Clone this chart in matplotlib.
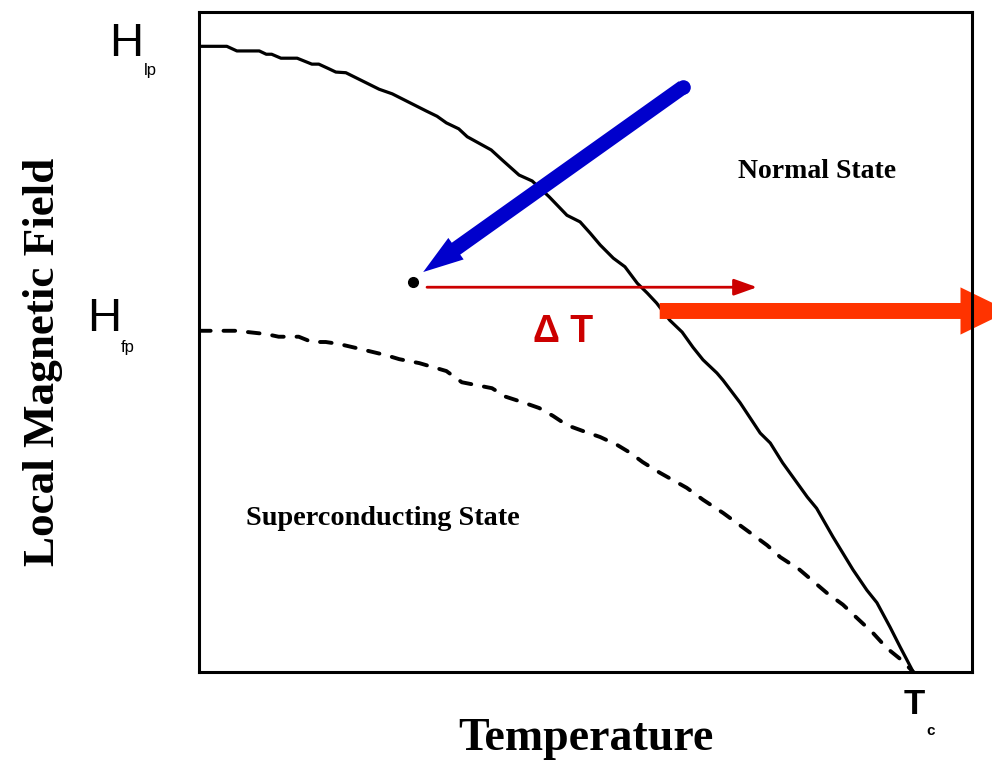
"""
Phase diagram sketch: local magnetic field vs temperature.
"""

import matplotlib.pyplot as plt

# Upper critical line (H_lp -> Tc), normalised units
t_upper = [0.000, 0.036, 0.049, 0.078, 0.087, 0.094, 0.106, 0.127, 0.146, 0.155,
           0.168, 0.177, 0.190, 0.233, 0.250, 0.294, 0.308, 0.320, 0.336, 0.347,
           0.378, 0.392, 0.414, 0.431, 0.453, 0.476, 0.493, 0.506, 0.519, 0.536,
           0.551, 0.567, 0.580, 0.592, 0.609, 0.625, 0.639, 0.652, 0.670, 0.678,
           0.700, 0.726, 0.739, 0.755, 0.787, 0.799, 0.820, 0.846, 0.864, 0.877,
           0.894, 0.907, 0.924]
h_upper = [0.948, 0.948, 0.941, 0.941, 0.936, 0.936, 0.930, 0.930, 0.921, 0.921,
           0.914, 0.909, 0.908, 0.883, 0.876, 0.850, 0.842, 0.832, 0.823, 0.811,
           0.791, 0.776, 0.753, 0.744, 0.720, 0.692, 0.682, 0.665, 0.647, 0.627,
           0.614, 0.589, 0.574, 0.559, 0.533, 0.515, 0.492, 0.473, 0.453, 0.442,
           0.408, 0.362, 0.347, 0.317, 0.265, 0.248, 0.205, 0.155, 0.124, 0.105,
           0.068, 0.038, 0.000]

# Lower line (H_fp -> Tc)
t_lower = [0.000, 0.048, 0.087, 0.103, 0.129, 0.146, 0.164, 0.181, 0.203, 0.242,
           0.259, 0.285, 0.320, 0.340, 0.379, 0.397, 0.418, 0.440, 0.458, 0.476,
           0.497, 0.519, 0.541, 0.558, 0.574, 0.596, 0.631, 0.652, 0.678, 0.713,
           0.735, 0.752, 0.777, 0.812, 0.833, 0.851, 0.872, 0.890, 0.909, 0.924]
h_lower = [0.517, 0.517, 0.512, 0.508, 0.508, 0.500, 0.500, 0.497, 0.491, 0.480,
           0.474, 0.468, 0.456, 0.439, 0.430, 0.417, 0.409, 0.400, 0.388, 0.374,
           0.365, 0.356, 0.344, 0.332, 0.318, 0.302, 0.279, 0.261, 0.241, 0.211,
           0.192, 0.174, 0.155, 0.120, 0.102, 0.082, 0.059, 0.036, 0.018, 0.000]

# state point and arrows
point = (0.277, 0.591)
field_arrow = ((0.626, 0.886), (0.290, 0.606))
dt_arrow = ((0.295, 0.583), (0.722, 0.583))
heat_arrow = ((0.596, 0.547), (1.048, 0.547))

blue = "#0000cc"
dark_red = "#cc0000"
orange = "#ff3300"
serif = "Liberation Serif"
sans = "Liberation Sans"

fig = plt.figure(figsize=(9.92, 7.64), dpi=100)
ax = fig.add_axes([199/992, 1 - 672/764, 773/992, 660/764])
ax.set_xlim(0, 1)
ax.set_ylim(0, 1)
ax.set_xticks([])
ax.set_yticks([])
for s in ax.spines.values():
    s.set_linewidth(2.2)

ax.plot(t_upper, h_upper, color="black", lw=2.3)
ax.plot(t_lower, h_lower, color="black", lw=2.8,
        linestyle=(0, (3.0, 3.3)), dash_capstyle="round")

# blue arrow (round tail)
ax.annotate("", xy=field_arrow[1], xytext=field_arrow[0],
            arrowprops=dict(arrowstyle="simple,head_length=2.9,head_width=1.9,tail_width=1.05",
                            mutation_scale=10, color=blue, lw=0,
                            shrinkA=0, shrinkB=0))
ax.plot(*field_arrow[0], "o", color=blue, ms=10.5, mew=0)

ax.plot(*point, "o", color="black", ms=7)

ax.annotate("", xy=dt_arrow[1], xytext=dt_arrow[0],
            arrowprops=dict(arrowstyle="-|>,head_length=14,head_width=5",
                            mutation_scale=1, color=dark_red, lw=2,
                            shrinkA=0, shrinkB=0))

ax.annotate("", xy=heat_arrow[1], xytext=heat_arrow[0], annotation_clip=False,
            arrowprops=dict(arrowstyle="simple,head_length=3.5,head_width=3.4,tail_width=1.15",
                            mutation_scale=10, color=orange, lw=0,
                            shrinkA=0, shrinkB=0), zorder=2)

ax.text(0.471, 0.515, "Δ T", color=dark_red, fontsize=27, fontweight="bold",
        family=sans, ha="center", va="center")
ax.text(0.799, 0.759, "Normal State", fontsize=20, fontweight="bold",
        family=serif, ha="center", va="center")
ax.text(0.238, 0.232, "Superconducting State", fontsize=20.3, fontweight="bold",
        family=serif, ha="center", va="center")

# axis markers
ax.text(-0.094, 0.952, "H", fontsize=34, family=sans, ha="center", va="center", clip_on=False)
ax.text(-0.063, 0.911, "lp", fontsize=12, family=sans, ha="center", va="center", clip_on=False)
ax.text(-0.123, 0.535, "H", fontsize=34, family=sans, ha="center", va="center", clip_on=False)
ax.text(-0.092, 0.492, "fp", fontsize=12, family=sans, ha="center", va="center", clip_on=False)
ax.text(0.925, -0.049, "T", fontsize=25, fontweight="bold", family=sans,
        ha="center", va="center", clip_on=False)
ax.text(0.946, -0.089, "c", fontsize=11, fontweight="bold", family=sans,
        ha="center", va="center", clip_on=False)

ax.set_xlabel("Temperature", fontsize=33, fontweight="bold", family=serif)
ax.xaxis.set_label_coords(0.5, -0.070)
ax.set_ylabel("Local Magnetic Field", fontsize=32.5, fontweight="bold", family=serif)
ax.yaxis.set_label_coords(-0.176, 0.47)

fig.savefig("out.png", dpi=100)
